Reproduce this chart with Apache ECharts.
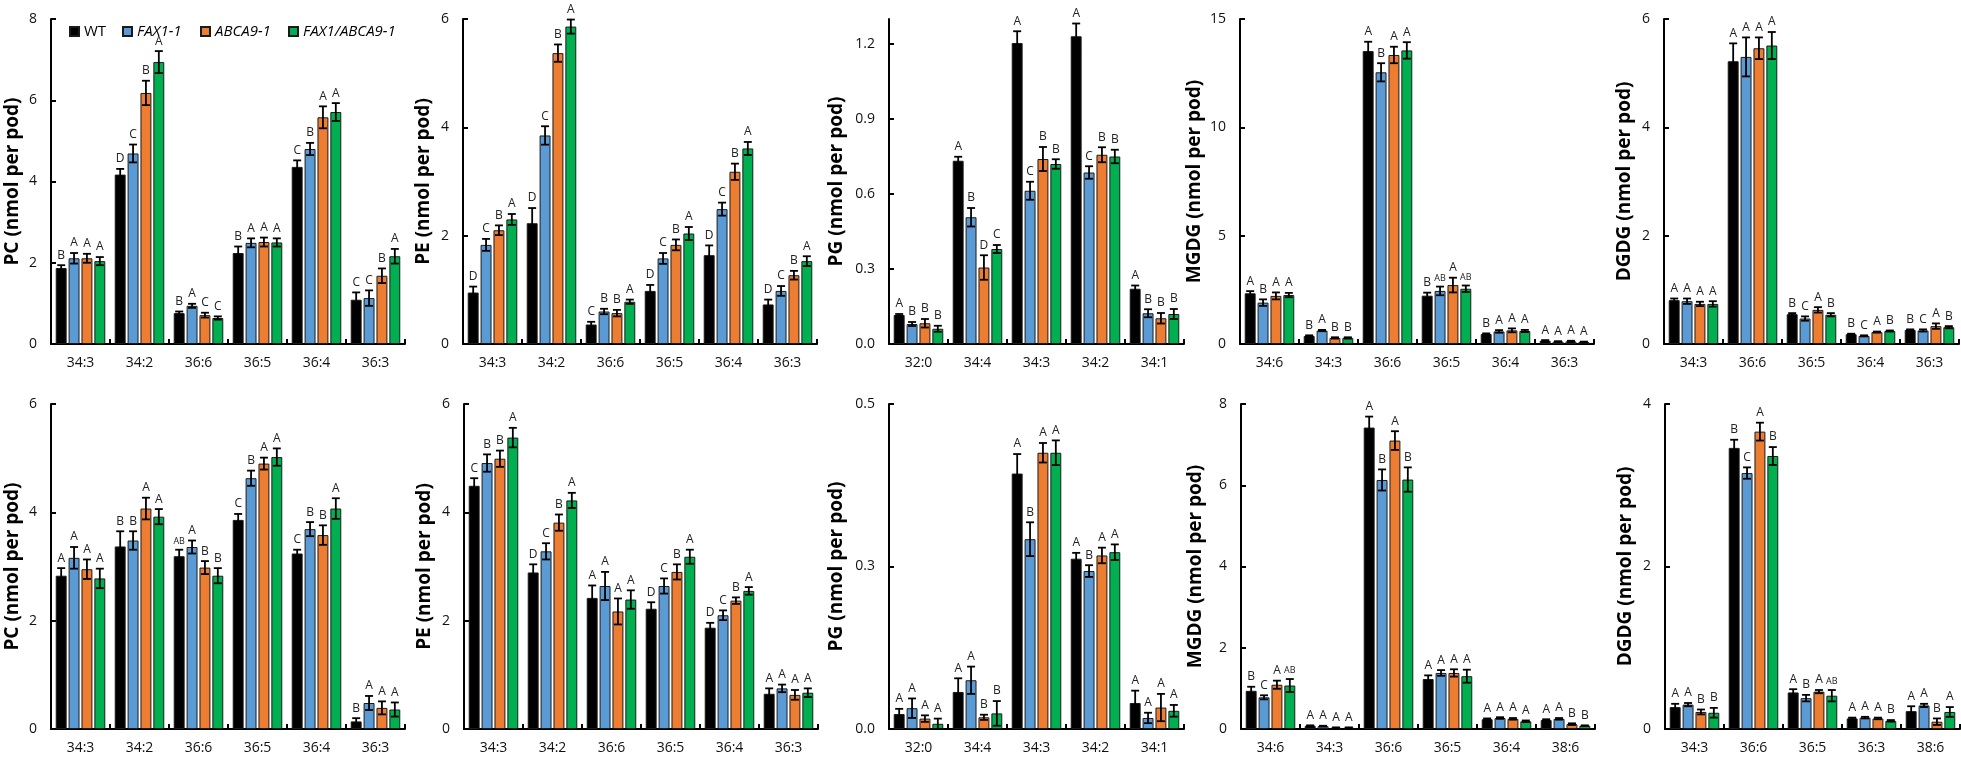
<!DOCTYPE html>
<html><head><meta charset="utf-8">
<script src="https://cdn.jsdelivr.net/npm/echarts@6/dist/echarts.min.js"></script>
<style>html,body{margin:0;padding:0;background:#fff}#c{width:1961px;height:762px}</style>
</head><body><div id="c"></div>
<script>
// ---------- DATA ----------
const genotypes = ['WT', 'FAX1-1', 'ABCA9-1', 'FAX1/ABCA9-1'];

// Top row
const pcT_cats = ['34:3', '34:2', '36:6', '36:5', '36:4', '36:3'];
const pcT_WT = [1.87, 4.17, 0.76, 2.24, 4.36, 1.09];
const pcT_WT_err = [0.07, 0.14, 0.04, 0.16, 0.16, 0.18];
const pcT_FAX = [2.11, 4.69, 0.94, 2.49, 4.80, 1.13];
const pcT_FAX_err = [0.13, 0.22, 0.05, 0.11, 0.15, 0.19];
const pcT_ABC = [2.11, 6.18, 0.71, 2.51, 5.58, 1.68];
const pcT_ABC_err = [0.11, 0.30, 0.06, 0.11, 0.27, 0.18];
const pcT_DBL = [2.04, 6.94, 0.64, 2.50, 5.71, 2.16];
const pcT_DBL_err = [0.10, 0.27, 0.04, 0.10, 0.22, 0.18];
const pcT_WT_sig = ['B', 'D', 'B', 'B', 'C', 'C'];
const pcT_FAX_sig = ['A', 'C', 'A', 'A', 'B', 'C'];
const pcT_ABC_sig = ['A', 'B', 'C', 'A', 'A', 'B'];
const pcT_DBL_sig = ['A', 'A', 'C', 'A', 'A', 'A'];
const pcT_yticks = [0, 2, 4, 6, 8];
const pcT_ylabels = ['0', '2', '4', '6', '8'];

const peT_cats = ['34:3', '34:2', '36:6', '36:5', '36:4', '36:3'];
const peT_WT = [0.95, 2.23, 0.36, 0.98, 1.64, 0.73];
const peT_WT_err = [0.11, 0.28, 0.05, 0.11, 0.18, 0.09];
const peT_FAX = [1.83, 3.85, 0.60, 1.58, 2.49, 0.98];
const peT_FAX_err = [0.11, 0.17, 0.05, 0.10, 0.12, 0.09];
const peT_ABC = [2.10, 5.37, 0.57, 1.83, 3.18, 1.27];
const peT_ABC_err = [0.09, 0.16, 0.06, 0.10, 0.15, 0.08];
const peT_DBL = [2.30, 5.86, 0.78, 2.04, 3.61, 1.53];
const peT_DBL_err = [0.10, 0.13, 0.04, 0.12, 0.12, 0.09];
const peT_WT_sig = ['D', 'D', 'C', 'D', 'D', 'D'];
const peT_FAX_sig = ['C', 'C', 'B', 'C', 'C', 'C'];
const peT_ABC_sig = ['B', 'B', 'B', 'B', 'B', 'B'];
const peT_DBL_sig = ['A', 'A', 'A', 'A', 'A', 'A'];
const peT_yticks = [0, 2, 4, 6];
const peT_ylabels = ['0', '2', '4', '6'];

const pgT_cats = ['32:0', '34:4', '34:3', '34:2', '34:1'];
const pgT_WT = [0.116, 0.733, 1.204, 1.231, 0.221];
const pgT_WT_err = [0.004, 0.016, 0.047, 0.051, 0.013];
const pgT_FAX = [0.080, 0.507, 0.613, 0.686, 0.123];
const pgT_FAX_err = [0.008, 0.037, 0.036, 0.025, 0.016];
const pgT_ABC = [0.083, 0.306, 0.740, 0.757, 0.103];
const pgT_ABC_err = [0.017, 0.049, 0.048, 0.030, 0.021];
const pgT_DBL = [0.061, 0.380, 0.720, 0.750, 0.120];
const pgT_DBL_err = [0.012, 0.016, 0.019, 0.027, 0.020];
const pgT_WT_sig = ['A', 'A', 'A', 'A', 'A'];
const pgT_FAX_sig = ['B', 'B', 'C', 'C', 'B'];
const pgT_ABC_sig = ['B', 'D', 'B', 'B', 'B'];
const pgT_DBL_sig = ['B', 'C', 'B', 'B', 'B'];
const pgT_yticks = [0, 0.3, 0.6, 0.9, 1.2];
const pgT_ylabels = ['0.0', '0.3', '0.6', '0.9', '1.2'];

const mgT_cats = ['34:6', '34:3', '36:6', '36:5', '36:4', '36:3'];
const mgT_WT = [2.34, 0.37, 13.52, 2.23, 0.46, 0.15];
const mgT_WT_err = [0.10, 0.03, 0.43, 0.14, 0.03, 0.03];
const mgT_FAX = [1.91, 0.62, 12.54, 2.45, 0.58, 0.11];
const mgT_FAX_err = [0.15, 0.03, 0.42, 0.20, 0.06, 0.02];
const mgT_ABC = [2.22, 0.28, 13.34, 2.72, 0.63, 0.12];
const mgT_ABC_err = [0.16, 0.03, 0.38, 0.34, 0.09, 0.03];
const mgT_DBL = [2.26, 0.28, 13.55, 2.55, 0.60, 0.09];
const mgT_DBL_err = [0.10, 0.03, 0.38, 0.15, 0.05, 0.02];
const mgT_WT_sig = ['A', 'B', 'A', 'B', 'B', 'A'];
const mgT_FAX_sig = ['B', 'A', 'B', 'AB', 'A', 'A'];
const mgT_ABC_sig = ['A', 'B', 'A', 'A', 'A', 'A'];
const mgT_DBL_sig = ['A', 'B', 'A', 'AB', 'A', 'A'];
const mgT_yticks = [0, 5, 10, 15];
const mgT_ylabels = ['0', '5', '10', '15'];

const dgT_cats = ['34:3', '36:6', '36:5', '36:4', '36:3'];
const dgT_WT = [0.81, 5.22, 0.55, 0.18, 0.26];
const dgT_WT_err = [0.03, 0.33, 0.02, 0.01, 0.01];
const dgT_FAX = [0.79, 5.30, 0.47, 0.15, 0.25];
const dgT_FAX_err = [0.05, 0.36, 0.04, 0.01, 0.02];
const dgT_ABC = [0.74, 5.46, 0.63, 0.22, 0.33];
const dgT_ABC_err = [0.04, 0.20, 0.05, 0.01, 0.05];
const dgT_DBL = [0.74, 5.51, 0.54, 0.24, 0.31];
const dgT_DBL_err = [0.05, 0.25, 0.03, 0.01, 0.02];
const dgT_WT_sig = ['A', 'A', 'B', 'B', 'B'];
const dgT_FAX_sig = ['A', 'A', 'C', 'C', 'C'];
const dgT_ABC_sig = ['A', 'A', 'A', 'A', 'A'];
const dgT_DBL_sig = ['A', 'A', 'B', 'B', 'B'];
const dgT_yticks = [0, 2, 4, 6];
const dgT_ylabels = ['0', '2', '4', '6'];

// Bottom row
const pcB_cats = ['34:3', '34:2', '36:6', '36:5', '36:4', '36:3'];
const pcB_WT = [2.83, 3.37, 3.19, 3.86, 3.24, 0.14];
const pcB_WT_err = [0.14, 0.28, 0.12, 0.11, 0.07, 0.06];
const pcB_FAX = [3.16, 3.48, 3.36, 4.63, 3.69, 0.48];
const pcB_FAX_err = [0.20, 0.17, 0.12, 0.14, 0.13, 0.13];
const pcB_ABC = [2.95, 4.07, 2.98, 4.90, 3.58, 0.39];
const pcB_ABC_err = [0.18, 0.20, 0.12, 0.11, 0.18, 0.12];
const pcB_DBL = [2.78, 3.92, 2.83, 5.02, 4.07, 0.36];
const pcB_DBL_err = [0.18, 0.14, 0.14, 0.16, 0.19, 0.13];
const pcB_WT_sig = ['A', 'B', 'AB', 'C', 'C', 'B'];
const pcB_FAX_sig = ['A', 'B', 'A', 'B', 'B', 'A'];
const pcB_ABC_sig = ['A', 'A', 'B', 'A', 'B', 'A'];
const pcB_DBL_sig = ['A', 'A', 'B', 'A', 'A', 'A'];
const pcB_yticks = [0, 2, 4, 6];
const pcB_ylabels = ['0', '2', '4', '6'];

const peB_cats = ['34:3', '34:2', '36:6', '36:5', '36:4', '36:3'];
const peB_WT = [4.49, 2.89, 2.42, 2.22, 1.87, 0.65];
const peB_WT_err = [0.14, 0.15, 0.23, 0.12, 0.09, 0.10];
const peB_FAX = [4.91, 3.28, 2.64, 2.64, 2.10, 0.75];
const peB_FAX_err = [0.16, 0.15, 0.26, 0.14, 0.09, 0.07];
const peB_ABC = [4.99, 3.81, 2.17, 2.90, 2.37, 0.63];
const peB_ABC_err = [0.15, 0.15, 0.24, 0.14, 0.06, 0.09];
const peB_DBL = [5.38, 4.22, 2.39, 3.18, 2.55, 0.67];
const peB_DBL_err = [0.18, 0.14, 0.17, 0.13, 0.07, 0.08];
const peB_WT_sig = ['C', 'D', 'A', 'D', 'D', 'A'];
const peB_FAX_sig = ['B', 'C', 'A', 'C', 'C', 'A'];
const peB_ABC_sig = ['B', 'B', 'A', 'B', 'B', 'A'];
const peB_DBL_sig = ['A', 'A', 'A', 'A', 'A', 'A'];
const peB_yticks = [0, 2, 4, 6];
const peB_ylabels = ['0', '2', '4', '6'];

const pgB_cats = ['32:0', '34:4', '34:3', '34:2', '34:1'];
const pgB_WT = [0.023, 0.057, 0.393, 0.262, 0.040];
const pgB_WT_err = [0.008, 0.021, 0.030, 0.009, 0.019];
const pgB_FAX = [0.032, 0.075, 0.292, 0.243, 0.017];
const pgB_FAX_err = [0.015, 0.021, 0.026, 0.009, 0.008];
const pgB_ABC = [0.016, 0.018, 0.425, 0.267, 0.033];
const pgB_ABC_err = [0.005, 0.004, 0.015, 0.012, 0.021];
const pgB_DBL = [0.008, 0.024, 0.425, 0.272, 0.028];
const pgB_DBL_err = [0.008, 0.019, 0.019, 0.012, 0.009];
const pgB_WT_sig = ['A', 'A', 'A', 'A', 'A'];
const pgB_FAX_sig = ['A', 'A', 'B', 'B', 'A'];
const pgB_ABC_sig = ['A', 'B', 'A', 'A', 'A'];
const pgB_DBL_sig = ['A', 'B', 'A', 'A', 'A'];
const pgB_yticks = [0, 0.25, 0.5];
const pgB_ylabels = ['0.0', '0.3', '0.5'];

const mgB_cats = ['34:6', '34:3', '36:6', '36:5', '36:4', '38:6'];
const mgB_WT = [0.94, 0.08, 7.42, 1.23, 0.24, 0.22];
const mgB_WT_err = [0.10, 0.01, 0.27, 0.09, 0.02, 0.02];
const mgB_FAX = [0.78, 0.07, 6.13, 1.38, 0.27, 0.25];
const mgB_FAX_err = [0.05, 0.01, 0.26, 0.07, 0.02, 0.02];
const mgB_ABC = [1.09, 0.03, 7.10, 1.38, 0.25, 0.12];
const mgB_ABC_err = [0.10, 0.01, 0.23, 0.09, 0.02, 0.02];
const mgB_DBL = [1.07, 0.03, 6.14, 1.30, 0.19, 0.08];
const mgB_DBL_err = [0.16, 0.01, 0.30, 0.16, 0.02, 0.01];
const mgB_WT_sig = ['B', 'A', 'A', 'A', 'A', 'A'];
const mgB_FAX_sig = ['C', 'A', 'B', 'A', 'A', 'A'];
const mgB_ABC_sig = ['A', 'A', 'A', 'A', 'A', 'B'];
const mgB_DBL_sig = ['AB', 'A', 'B', 'A', 'A', 'B'];
const mgB_yticks = [0, 2, 4, 6, 8];
const mgB_ylabels = ['0', '2', '4', '6', '8'];

const dgB_cats = ['34:3', '36:6', '36:5', '36:3', '38:6'];
const dgB_WT = [0.27, 3.46, 0.45, 0.13, 0.22];
const dgB_WT_err = [0.04, 0.10, 0.04, 0.01, 0.06];
const dgB_FAX = [0.30, 3.15, 0.38, 0.14, 0.29];
const dgB_FAX_err = [0.02, 0.07, 0.04, 0.01, 0.02];
const dgB_ABC = [0.21, 3.66, 0.46, 0.13, 0.09];
const dgB_ABC_err = [0.03, 0.11, 0.02, 0.01, 0.04];
const dgB_DBL = [0.20, 3.36, 0.41, 0.10, 0.21];
const dgB_DBL_err = [0.06, 0.11, 0.07, 0.01, 0.06];
const dgB_WT_sig = ['A', 'B', 'A', 'A', 'A'];
const dgB_FAX_sig = ['A', 'C', 'B', 'A', 'A'];
const dgB_ABC_sig = ['B', 'A', 'A', 'A', 'B'];
const dgB_DBL_sig = ['B', 'B', 'AB', 'B', 'A'];
const dgB_yticks = [0, 2, 4];
const dgB_ylabels = ['0', '2', '4'];

// ---------- PANEL ASSEMBLY ----------
const panels = [
  {name: 'PC (nmol per pod)', cats: pcT_cats, max: 8, yt: pcT_yticks, yl: pcT_ylabels,
   m: [pcT_WT, pcT_FAX, pcT_ABC, pcT_DBL], e: [pcT_WT_err, pcT_FAX_err, pcT_ABC_err, pcT_DBL_err], s: [pcT_WT_sig, pcT_FAX_sig, pcT_ABC_sig, pcT_DBL_sig]},
  {name: 'PE (nmol per pod)', cats: peT_cats, max: 6, yt: peT_yticks, yl: peT_ylabels,
   m: [peT_WT, peT_FAX, peT_ABC, peT_DBL], e: [peT_WT_err, peT_FAX_err, peT_ABC_err, peT_DBL_err], s: [peT_WT_sig, peT_FAX_sig, peT_ABC_sig, peT_DBL_sig]},
  {name: 'PG (nmol per pod)', cats: pgT_cats, max: 1.3, yt: pgT_yticks, yl: pgT_ylabels,
   m: [pgT_WT, pgT_FAX, pgT_ABC, pgT_DBL], e: [pgT_WT_err, pgT_FAX_err, pgT_ABC_err, pgT_DBL_err], s: [pgT_WT_sig, pgT_FAX_sig, pgT_ABC_sig, pgT_DBL_sig]},
  {name: 'MGDG (nmol per pod)', cats: mgT_cats, max: 15, yt: mgT_yticks, yl: mgT_ylabels,
   m: [mgT_WT, mgT_FAX, mgT_ABC, mgT_DBL], e: [mgT_WT_err, mgT_FAX_err, mgT_ABC_err, mgT_DBL_err], s: [mgT_WT_sig, mgT_FAX_sig, mgT_ABC_sig, mgT_DBL_sig]},
  {name: 'DGDG (nmol per pod)', cats: dgT_cats, max: 6, yt: dgT_yticks, yl: dgT_ylabels,
   m: [dgT_WT, dgT_FAX, dgT_ABC, dgT_DBL], e: [dgT_WT_err, dgT_FAX_err, dgT_ABC_err, dgT_DBL_err], s: [dgT_WT_sig, dgT_FAX_sig, dgT_ABC_sig, dgT_DBL_sig]},
  {name: 'PC (nmol per pod)', cats: pcB_cats, max: 6, yt: pcB_yticks, yl: pcB_ylabels,
   m: [pcB_WT, pcB_FAX, pcB_ABC, pcB_DBL], e: [pcB_WT_err, pcB_FAX_err, pcB_ABC_err, pcB_DBL_err], s: [pcB_WT_sig, pcB_FAX_sig, pcB_ABC_sig, pcB_DBL_sig]},
  {name: 'PE (nmol per pod)', cats: peB_cats, max: 6, yt: peB_yticks, yl: peB_ylabels,
   m: [peB_WT, peB_FAX, peB_ABC, peB_DBL], e: [peB_WT_err, peB_FAX_err, peB_ABC_err, peB_DBL_err], s: [peB_WT_sig, peB_FAX_sig, peB_ABC_sig, peB_DBL_sig]},
  {name: 'PG (nmol per pod)', cats: pgB_cats, max: 0.5, yt: pgB_yticks, yl: pgB_ylabels,
   m: [pgB_WT, pgB_FAX, pgB_ABC, pgB_DBL], e: [pgB_WT_err, pgB_FAX_err, pgB_ABC_err, pgB_DBL_err], s: [pgB_WT_sig, pgB_FAX_sig, pgB_ABC_sig, pgB_DBL_sig]},
  {name: 'MGDG (nmol per pod)', cats: mgB_cats, max: 8, yt: mgB_yticks, yl: mgB_ylabels,
   m: [mgB_WT, mgB_FAX, mgB_ABC, mgB_DBL], e: [mgB_WT_err, mgB_FAX_err, mgB_ABC_err, mgB_DBL_err], s: [mgB_WT_sig, mgB_FAX_sig, mgB_ABC_sig, mgB_DBL_sig]},
  {name: 'DGDG (nmol per pod)', cats: dgB_cats, max: 4, yt: dgB_yticks, yl: dgB_ylabels,
   m: [dgB_WT, dgB_FAX, dgB_ABC, dgB_DBL], e: [dgB_WT_err, dgB_FAX_err, dgB_ABC_err, dgB_DBL_err], s: [dgB_WT_sig, dgB_FAX_sig, dgB_ABC_sig, dgB_DBL_sig]}
];

// ---------- LAYOUT / STYLE ----------
const FONT = '"Open Sans", "Noto Sans", sans-serif';
const COLORS = ['#000000', '#5B9BD5', '#ED7D31', '#00B050'];
const BAR_GAP = '18%';
const BAR_CAT_GAP = '16%';
const CAP = 4;
const GRID_H = 325;
const layout = [
  {left: 51, top: 19, width: 354, gap: 29},
  {left: 463, top: 19, width: 354, gap: 30},
  {left: 889, top: 19, width: 295, gap: 43},
  {left: 1240, top: 19, width: 354, gap: 36},
  {left: 1664, top: 19, width: 295, gap: 30},
  {left: 51, top: 404, width: 354, gap: 29},
  {left: 464, top: 404, width: 354, gap: 30},
  {left: 889, top: 404, width: 295, gap: 43},
  {left: 1241, top: 404, width: 354, gap: 36},
  {left: 1665, top: 404, width: 295, gap: 30}
];

const grids = [], xAxes = [], yAxes = [], series = [];
panels.forEach((p, pi) => {
  const L = layout[pi];
  grids.push({left: L.left, top: L.top, width: L.width, height: GRID_H, containLabel: false});
  xAxes.push({
    type: 'category', gridIndex: pi, data: p.cats,
    axisLine: {show: true, lineStyle: {color: '#000', width: 2}},
    axisTick: {show: true, inside: true, length: 5, lineStyle: {color: '#000', width: 2}},
    axisLabel: {fontFamily: FONT, fontSize: 14, color: '#111', margin: 12},
    splitLine: {show: false}
  });
  yAxes.push({
    type: 'value', gridIndex: pi, min: 0, max: p.max,
    name: p.name, nameLocation: 'middle', nameGap: L.gap,
    nameTextStyle: {fontFamily: FONT, fontWeight: 'bold', fontSize: 19, color: '#000'},
    axisLine: {show: true, lineStyle: {color: '#000', width: 2}},
    axisTick: {show: true, inside: true, length: 5, customValues: p.yt, lineStyle: {color: '#000', width: 2}},
    axisLabel: {fontFamily: FONT, fontSize: 14, color: '#111', margin: 14, customValues: p.yt,
      formatter: v => { const k = p.yt.findIndex(t => Math.abs(t - v) < 1e-9); return k >= 0 ? p.yl[k] : ''; }},
    splitLine: {show: false}
  });
  for (let si = 0; si < 4; si++) {
    series.push({
      type: 'bar', name: genotypes[si], xAxisIndex: pi, yAxisIndex: pi,
      data: p.m[si], barGap: BAR_GAP, barCategoryGap: BAR_CAT_GAP,
      itemStyle: {color: COLORS[si], borderColor: '#1a1a1a', borderWidth: 1},
      emphasis: {disabled: true}, animation: false
    });
  }
  for (let si = 0; si < 4; si++) {
    const means = p.m[si], errs = p.e[si], sigs = p.s[si];
    series.push({
      type: 'custom', xAxisIndex: pi, yAxisIndex: pi, z: 10, animation: false, silent: true,
      data: means.map((v, i) => [i, v, errs[i]]),
      renderItem: function (params, api) {
        const i = api.value(0), mv = api.value(1), ev = api.value(2);
        let off;
        if (api.barLayout) {
          off = api.barLayout({count: 4, barGap: BAR_GAP, barCategoryGap: BAR_CAT_GAP})[si].offsetCenter;
        } else {
          const bw = api.size([1, 0])[0];
          const w = bw * 0.84 / (4 + 3 * 0.18);
          off = -(4 * w + 3 * 0.18 * w) / 2 + si * w * 1.18 + w / 2;
        }
        const x = api.coord([i, mv])[0] + off;
        const yt = api.coord([i, mv + ev])[1];
        const yb = api.coord([i, Math.max(mv - ev, 0)])[1];
        const sig = sigs[params.dataIndex];
        const st = {stroke: '#000', lineWidth: 1.8};
        return {type: 'group', children: [
          {type: 'line', shape: {x1: x, y1: yt, x2: x, y2: yb}, style: st},
          {type: 'line', shape: {x1: x - CAP, y1: yt, x2: x + CAP, y2: yt}, style: st},
          {type: 'line', shape: {x1: x - CAP, y1: yb, x2: x + CAP, y2: yb}, style: st},
          {type: 'text', x: x, y: yt - 4, style: {text: sig, align: 'center', verticalAlign: 'bottom',
            fontSize: sig.length > 1 ? 9 : 12, fontFamily: FONT, fill: '#222'}}
        ]};
      }
    });
  }
});

const legendLefts = [64, 117, 195, 283];
const legends = genotypes.map((g, k) => ({
  data: [g], left: legendLefts[k], top: 19, itemWidth: 9, itemHeight: 9,
  icon: 'rect', selectedMode: false,
  textStyle: {fontFamily: FONT, fontSize: 15, color: '#000', fontStyle: k === 0 ? 'normal' : 'italic'}
}));

const chart = echarts.init(document.getElementById('c'), null, {renderer: 'canvas'});
chart.setOption({
  animation: false,
  backgroundColor: '#fff',
  legend: legends,
  grid: grids, xAxis: xAxes, yAxis: yAxes, series: series
});
</script>
</body></html>
